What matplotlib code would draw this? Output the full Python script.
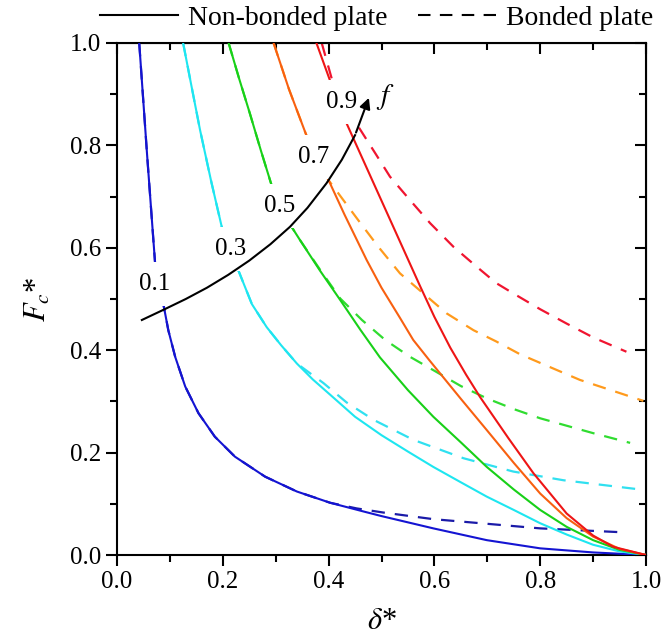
import numpy as np
import matplotlib.pyplot as plt
from matplotlib.lines import Line2D
from matplotlib.ticker import MultipleLocator

plt.rcParams['font.family'] = ['Liberation Serif', 'DejaVu Serif']
plt.rcParams['mathtext.fontset'] = 'stix'

# ---- data (delta*, Fc*) ----
# f = 0.1
d_nb_01 = [0.042, 0.057, 0.072, 0.088, 0.097, 0.110, 0.129, 0.154, 0.185, 0.223, 0.280, 0.340, 0.403, 0.466, 0.50, 0.598, 0.699, 0.80, 0.90, 1.0]
F_nb_01 = [1.0, 0.78, 0.570, 0.488, 0.439, 0.387, 0.329, 0.277, 0.231, 0.192, 0.153, 0.124, 0.102, 0.085, 0.076, 0.052, 0.029, 0.013, 0.005, 0.0]
d_b_01 = [0.042, 0.057, 0.072, 0.088, 0.097, 0.110, 0.129, 0.154, 0.185, 0.223, 0.280, 0.340, 0.403, 0.453, 0.503, 0.598, 0.699, 0.80, 0.963]
F_b_01 = [1.0, 0.78, 0.570, 0.488, 0.439, 0.387, 0.329, 0.277, 0.231, 0.192, 0.153, 0.124, 0.102, 0.091, 0.083, 0.070, 0.061, 0.052, 0.044]
# f = 0.3
d_nb_03 = [0.125, 0.14, 0.157, 0.178, 0.198, 0.229, 0.255, 0.283, 0.31, 0.340, 0.37, 0.403, 0.45, 0.50, 0.55, 0.598, 0.65, 0.699, 0.75, 0.80, 0.85, 0.90, 0.95, 1.0]
F_nb_03 = [1.0, 0.92, 0.830, 0.73, 0.641, 0.557, 0.49, 0.445, 0.41, 0.374, 0.343, 0.313, 0.270, 0.234, 0.202, 0.172, 0.142, 0.114, 0.088, 0.062, 0.040, 0.020, 0.007, 0.0]
d_b_03 = [0.125, 0.14, 0.157, 0.178, 0.198, 0.229, 0.255, 0.283, 0.31, 0.340, 0.39, 0.434, 0.485, 0.56, 0.655, 0.749, 0.844, 0.989]
F_b_03 = [1.0, 0.92, 0.830, 0.73, 0.641, 0.557, 0.49, 0.445, 0.41, 0.374, 0.336, 0.298, 0.264, 0.225, 0.189, 0.163, 0.146, 0.128]
# f = 0.5
d_nb_05 = [0.211, 0.231, 0.251, 0.272, 0.292, 0.330, 0.346, 0.384, 0.422, 0.46, 0.497, 0.55, 0.598, 0.65, 0.699, 0.75, 0.80, 0.85, 0.90, 0.95, 1.0]
F_nb_05 = [1.0, 0.93, 0.863, 0.79, 0.723, 0.641, 0.615, 0.555, 0.498, 0.440, 0.386, 0.322, 0.270, 0.22, 0.172, 0.128, 0.088, 0.055, 0.029, 0.010, 0.0]
d_b_05 = [0.211, 0.231, 0.251, 0.272, 0.292, 0.330, 0.346, 0.384, 0.422, 0.463, 0.507, 0.554, 0.598, 0.65, 0.699, 0.75, 0.80, 0.90, 0.970]
F_b_05 = [1.0, 0.93, 0.863, 0.79, 0.723, 0.641, 0.615, 0.557, 0.501, 0.459, 0.420, 0.387, 0.361, 0.33, 0.306, 0.285, 0.267, 0.238, 0.219]
# f = 0.7
d_nb_07 = [0.296, 0.325, 0.359, 0.40, 0.43, 0.472, 0.50, 0.535, 0.56, 0.59, 0.65, 0.699, 0.75, 0.80, 0.85, 0.90, 0.95, 1.0]
F_nb_07 = [1.0, 0.91, 0.817, 0.732, 0.665, 0.576, 0.522, 0.463, 0.42, 0.381, 0.305, 0.244, 0.18, 0.120, 0.072, 0.036, 0.012, 0.0]
d_b_07 = [0.296, 0.325, 0.359, 0.40, 0.428, 0.456, 0.494, 0.535, 0.579, 0.623, 0.674, 0.717, 0.762, 0.875, 0.995]
F_b_07 = [1.0, 0.91, 0.817, 0.732, 0.693, 0.654, 0.602, 0.550, 0.511, 0.472, 0.439, 0.417, 0.392, 0.342, 0.301]
# f = 0.9
d_nb_09 = [0.377, 0.405, 0.434, 0.50, 0.573, 0.60, 0.63, 0.66, 0.686, 0.74, 0.787, 0.85, 0.90, 0.938, 1.0]
F_nb_09 = [1.0, 0.92, 0.843, 0.692, 0.525, 0.465, 0.405, 0.352, 0.309, 0.228, 0.160, 0.081, 0.038, 0.016, 0.0]
d_b_09 = [0.387, 0.406, 0.43, 0.456, 0.488, 0.516, 0.554, 0.592, 0.636, 0.68, 0.717, 0.749, 0.80, 0.85, 0.90, 0.963]
F_b_09 = [1.0, 0.93, 0.875, 0.837, 0.785, 0.739, 0.693, 0.648, 0.602, 0.563, 0.531, 0.511, 0.48, 0.452, 0.425, 0.397]

# arrow showing increasing f
arrow_d = [0.047, 0.088, 0.13, 0.17, 0.21, 0.25, 0.29, 0.327, 0.36, 0.396, 0.425, 0.45, 0.478]
arrow_F = [0.459, 0.479, 0.50, 0.522, 0.547, 0.575, 0.607, 0.641, 0.678, 0.726, 0.772, 0.82, 0.898]

f_labels = ['0.1', '0.3', '0.5', '0.7', '0.9']
label_d = [0.072, 0.214, 0.308, 0.371, 0.425]
label_F = [0.530, 0.598, 0.682, 0.777, 0.885]

series = [
    (d_nb_01, F_nb_01, d_b_01, F_b_01, '#1414d2', '#1a1aa8'),
    (d_nb_03, F_nb_03, d_b_03, F_b_03, '#1ee6f0', '#30e0f0'),
    (d_nb_05, F_nb_05, d_b_05, F_b_05, '#18d018', '#30dc30'),
    (d_nb_07, F_nb_07, d_b_07, F_b_07, '#f86010', '#ff9a1c'),
    (d_nb_09, F_nb_09, d_b_09, F_b_09, '#ee1515', '#f01530'),
]

fig = plt.figure(figsize=(6.67, 6.43), dpi=100)
ax = fig.add_axes([117/667, (643-555)/643, 529/667, 512/643])

for dn, Fn, db, Fb, cs, cd in series:
    ax.plot(db, Fb, color=cd, lw=1.6, dashes=(6, 4.5), zorder=2)
    ax.plot(dn, Fn, color=cs, lw=1.5, zorder=3)

for s, x, y in zip(f_labels, label_d, label_F):
    ax.text(x, y, s, fontsize=18, ha='center', va='center', zorder=4,
            bbox=dict(facecolor='white', edgecolor='none', pad=8))

ax.plot(arrow_d[:-1], arrow_F[:-1], color='black', lw=1.5, zorder=5)
ax.annotate('', xy=(arrow_d[-1], arrow_F[-1]), xytext=(arrow_d[-2], arrow_F[-2]),
            arrowprops=dict(arrowstyle='-|>', color='black', lw=1.5, mutation_scale=16),
            zorder=5)
ax.text(0.49, 0.895, '$f$', fontsize=21, ha='left', va='center', zorder=5)

ax.set_xlim(0, 1)
ax.set_ylim(0, 1)
ax.xaxis.set_major_locator(MultipleLocator(0.2))
ax.xaxis.set_minor_locator(MultipleLocator(0.1))
ax.yaxis.set_major_locator(MultipleLocator(0.2))
ax.yaxis.set_minor_locator(MultipleLocator(0.1))
ax.xaxis.set_major_formatter(lambda v, p: f'{v:.1f}')
ax.yaxis.set_major_formatter(lambda v, p: f'{v:.1f}')
ax.tick_params(which='major', direction='out', length=8, width=1.5, labelsize=18)
ax.tick_params(which='minor', direction='out', length=5, width=1.5)
for sp in ax.spines.values():
    sp.set_linewidth(1.5)

# inward ticks on top and right
top = ax.secondary_xaxis('top')
right = ax.secondary_yaxis('right')
for sec in (top, right):
    sec.tick_params(which='major', direction='in', length=8, width=1.5)
    sec.tick_params(which='minor', direction='in', length=5, width=1.5)
top.xaxis.set_major_locator(MultipleLocator(0.2))
top.xaxis.set_minor_locator(MultipleLocator(0.1))
right.yaxis.set_major_locator(MultipleLocator(0.2))
right.yaxis.set_minor_locator(MultipleLocator(0.1))
top.set_xticklabels([])
right.set_yticklabels([])

ax.set_xlabel(r'$\delta$*', fontsize=22, labelpad=10)
ax.set_ylabel(r'$F_c$*', fontsize=22, labelpad=12)

handles = [Line2D([], [], color='black', lw=1.5),
           Line2D([], [], color='black', lw=1.5, dashes=(6, 4.5))]
fig.legend(handles, ['Non-bonded plate', 'Bonded plate'], loc='center',
           bbox_to_anchor=(0.565, 1 - 18/643), ncol=2, frameon=False,
           fontsize=20, handlelength=2.8, columnspacing=1.1, handletextpad=0.36,
           borderpad=0, borderaxespad=0)

fig.savefig('out.png', dpi=100)
